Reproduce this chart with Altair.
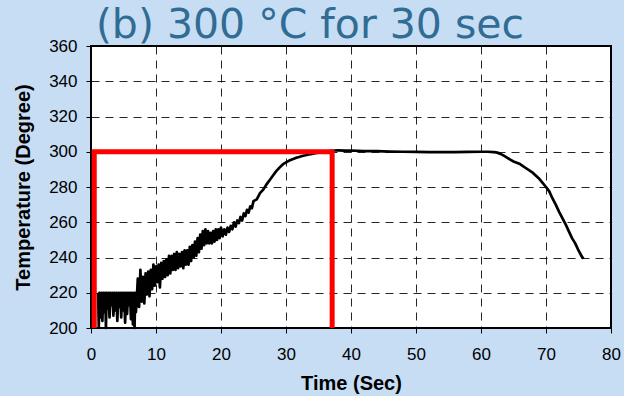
import altair as alt
import pandas as pd

# ---- measured temperature trace (read from the picture) ----
# start-up: noisy reading that saturates at ~220 and drops towards 200
t_start = [1.1, 1.2, 1.3, 1.45, 1.6, 1.75, 1.9, 2.05, 2.2, 2.3, 2.4, 2.55, 2.7, 2.85,
           3.0, 3.15, 3.3, 3.45, 3.6, 3.75, 3.9, 4.05, 4.2, 4.35, 4.5, 4.65, 4.8, 4.95,
           5.1, 5.25, 5.4, 5.55, 5.7, 5.85, 6.0, 6.15, 6.3, 6.45, 6.6, 6.7, 6.8, 6.9]
T_start = [220, 200.5, 220, 206, 220, 204, 220, 209, 220, 200, 220, 211, 220, 206,
           220, 213, 220, 207, 220, 210, 220, 204, 220, 212, 220, 206, 220, 210,
           220, 203, 220, 208, 220, 213, 220, 205, 220, 202, 220, 200, 220, 209]

# noisy heating ramp
t_ramp = [7.0, 7.2, 7.4, 7.6, 7.8, 8.0, 8.2, 8.4, 8.6, 8.8, 9.0, 9.2, 9.4, 9.6, 9.8,
          10.0, 10.2, 10.4, 10.6, 10.8, 11.0, 11.2, 11.4, 11.6, 11.8, 12.0, 12.2, 12.4,
          12.6, 12.8, 13.0, 13.2, 13.4, 13.6, 13.8, 14.0, 14.2, 14.4, 14.6, 14.8, 15.0,
          15.2, 15.4, 15.6, 15.8, 16.0, 16.2, 16.4, 16.6, 16.8, 17.0, 17.2, 17.4, 17.6,
          17.8, 18.0, 18.2, 18.4, 18.6, 18.8, 19.0, 19.2, 19.4, 19.6, 19.8, 20.0]
T_ramp = [213, 228, 212, 233, 215, 229, 214, 231, 219, 232, 218, 233, 222, 236, 224,
          235, 226, 236, 223, 237, 228, 238, 229, 239, 230, 241, 231, 241,
          233, 242, 233, 243, 234, 242, 235, 243, 234, 244, 236, 244, 236,
          246, 238, 247, 240, 249, 241, 251, 243, 253, 245, 255, 247, 256,
          248, 255, 248, 254, 248, 255, 249, 256, 250, 256, 251, 257]

# smoother rise to the 300 degree hold
t_rise = [20.25, 20.5, 20.75, 21.0, 21.25, 21.5, 21.75, 22.0, 22.25, 22.5, 22.75, 23.0,
          23.25, 23.5, 23.75, 24.0, 24.25, 24.5, 24.75, 25.0, 25.5, 26.0, 26.5, 27.0,
          27.5, 28.0, 28.5, 29.0, 29.5, 30.0, 30.5, 31.0, 31.5, 32.0, 32.5, 33.0, 33.5,
          34.0, 34.5, 35.0, 35.5, 36.0, 36.5, 37.0, 37.5]
T_rise = [252, 256, 253, 257, 254.5, 258, 256, 260, 257.5, 261, 259.5, 263,
          261, 265, 263.5, 267, 265.5, 269, 268, 272, 273, 276.5, 278.5, 281.5,
          284, 286.5, 289, 291, 292.8, 294, 295, 295.8, 296.5, 297, 297.6, 298, 298.5,
          298.8, 299.2, 299.5, 299.8, 300, 300.3, 300.5, 300.7]

# hold and cool-down
t_hold = [38, 39, 40, 42, 44, 46, 48, 50, 52, 54, 56, 58, 60, 61, 62, 62.5, 63, 63.5,
          64, 64.5, 65, 65.5, 66, 67, 68, 69, 70, 70.5, 71, 71.5, 72, 72.5, 73, 73.5,
          74, 74.5, 75, 75.3, 75.6, 75.8]
T_hold = [300.8, 300.6, 300.7, 300.4, 300.3, 300.1, 300.0, 299.9, 299.8, 299.8, 299.8,
          299.9, 300.0, 300.0, 299.8, 299.5, 298.8, 297.8, 296.7, 295.5, 294.5, 293.8,
          293, 290.5, 288, 284.5, 280, 277.5, 273.5, 270, 266, 262.5, 259, 255, 251,
          248, 244, 242, 240, 239.5]

time = t_start + t_ramp + t_rise + t_hold
temp = T_start + T_ramp + T_rise + T_hold
trace = pd.DataFrame({"Time": time, "Temp": temp})

# red target window (300 degree for ~30 s)
box_t = [0.5, 0.5, 37.1, 37.1]
box_T = [200, 300, 300, 200]
box_k = [0, 1, 2, 3]
box = pd.DataFrame({"Time": box_t, "Temp": box_T, "k": box_k})

x_ticks = [0, 10, 20, 30, 40, 50, 60, 70, 80]
y_ticks = [200, 220, 240, 260, 280, 300, 320, 340, 360]

x_enc = alt.X("Time:Q", scale=alt.Scale(domain=[0, 80], nice=False),
              axis=alt.Axis(values=x_ticks, title="Time (Sec)", labelPadding=13,
                            titlePadding=11, labelFlush=False, labelOverlap=False))
y_enc = alt.Y("Temp:Q", scale=alt.Scale(domain=[200, 360], nice=False),
              axis=alt.Axis(values=y_ticks, title="Temperature (Degree)",
                            labelPadding=9, titlePadding=15, labelFlush=False,
                            labelOverlap=False))

line = alt.Chart(trace).mark_line(color="black", strokeWidth=2.7, strokeJoin="round").encode(
    x=x_enc, y=y_enc
)
red = alt.Chart(box).mark_line(color="#FF0000", strokeWidth=5, strokeJoin="miter").encode(
    x=x_enc, y=y_enc, order="k:Q"
)

chart = (
    alt.layer(line, red)
    .properties(
        width=520,
        height=282,
        autosize=alt.AutoSizeParams(type="none"),
        padding={"left": 91, "top": 46, "right": 13, "bottom": 68},
        background="#C6DDF3",
        title=alt.TitleParams(
            "(b) 300 °C for 30 sec",
            font="DejaVu Sans",
            fontSize=41,
            fontWeight="normal",
            color="#306C94",
            anchor="middle",
            dx=-41,
            offset=-10,
        ),
    )
    .configure_view(fill="white", stroke="black", strokeWidth=2)
    .configure_axis(
        domain=False,
        grid=True,
        gridColor="black",
        gridDash=[8, 6],
        gridWidth=1,
        gridOpacity=0.85,
        ticks=True,
        tickColor="black",
        tickSize=5,
        tickWidth=1,
        labelFont="Liberation Sans",
        labelFontSize=17,
        labelColor="black",
        titleFont="Liberation Sans",
        titleFontSize=20,
        titleFontWeight="bold",
        titleColor="black",
    )
)

chart.save("out.html", embed_options={"renderer": "svg", "actions": False})
